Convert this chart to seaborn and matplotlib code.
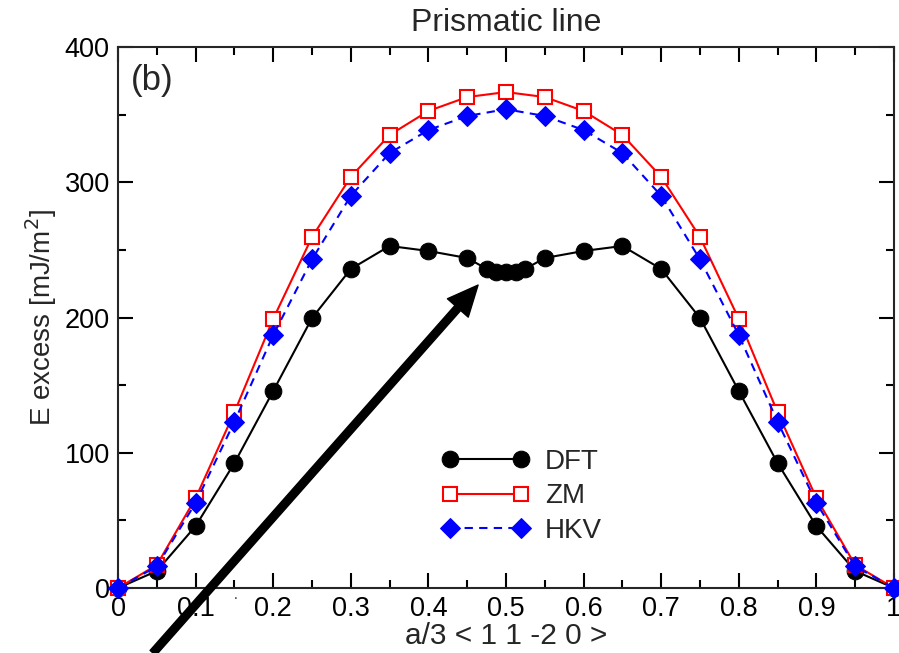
import matplotlib
matplotlib.use("Agg")
import matplotlib.pyplot as plt
import seaborn as sns
from matplotlib.ticker import MultipleLocator

# data
x_dft = [0.0, 0.05, 0.1, 0.15, 0.2, 0.25, 0.3, 0.35, 0.4, 0.45,
         0.475, 0.4875, 0.5, 0.5125, 0.525,
         0.55, 0.6, 0.65, 0.7, 0.75, 0.8, 0.85, 0.9, 0.95, 1.0]
e_dft = [0.0, 12.6, 45.8, 92.4, 145.7, 199.6, 235.9, 252.9, 249.2, 244.0,
         236.0, 234.0, 233.5, 234.0, 236.0,
         244.0, 249.2, 252.9, 235.9, 199.6, 145.7, 92.4, 45.8, 12.6, 0.0]

x_model = [0.0, 0.05, 0.1, 0.15, 0.2, 0.25, 0.3, 0.35, 0.4, 0.45, 0.5,
           0.55, 0.6, 0.65, 0.7, 0.75, 0.8, 0.85, 0.9, 0.95, 1.0]
e_zm = [0.0, 17.0, 66.5, 130.0, 199.0, 259.5, 304.0, 335.0, 352.7, 363.0, 366.7,
        363.0, 352.7, 335.0, 304.0, 259.5, 199.0, 130.0, 66.5, 17.0, 0.0]
e_hkv = [0.0, 16.0, 63.0, 123.0, 187.0, 243.0, 290.0, 321.6, 338.6, 349.0, 354.0,
         349.0, 338.6, 321.6, 290.0, 243.0, 187.0, 123.0, 63.0, 16.0, 0.0]

# arrow: tail (off the bottom) and tip, in data units
arrow_tail = (0.045, -48)
arrow_tip = (0.464, 224)

sns.set_style("ticks")
plt.rcParams["font.family"] = ["Liberation Sans", "DejaVu Sans"]

fig = plt.figure(figsize=(8.99, 6.53), dpi=100)
ax = fig.add_axes([0.1313, 0.0995, 0.8631, 0.8285])

sns.lineplot(x=x_dft, y=e_dft, ax=ax, color="black", lw=1.5, marker="o",
             markersize=12, markeredgecolor="black", label="DFT",
             sort=False, estimator=None, clip_on=False, zorder=3)
sns.lineplot(x=x_model, y=e_zm, ax=ax, color="red", lw=1.5, marker="s",
             markersize=10, markerfacecolor="white", markeredgecolor="red",
             markeredgewidth=1.5, label="ZM",
             sort=False, estimator=None, clip_on=False, zorder=4)
sns.lineplot(x=x_model, y=e_hkv, ax=ax, color="blue", lw=1.5, marker="D",
             markersize=10.5, markeredgecolor="blue", label="HKV",
             sort=False, estimator=None, clip_on=False, zorder=5)
ax.lines[-1].set_linestyle((0, (4, 3)))

ax.set_xlim(0, 1)
ax.set_ylim(0, 400)
ax.xaxis.set_minor_locator(MultipleLocator(0.05))
ax.yaxis.set_major_locator(MultipleLocator(100))
ax.yaxis.set_minor_locator(MultipleLocator(50))
ax.set_xticks([0, 0.1, 0.2, 0.3, 0.4, 0.5, 0.6, 0.7, 0.8, 0.9, 1.0])
ax.set_xticklabels(["0", "0.1", "0.2", "0.3", "0.4", "0.5", "0.6", "0.7",
                    "0.8", "0.9", "1"])
ax.tick_params(which="both", direction="in", top=True, right=True,
               labelsize=19.5, width=1.5, colors="black")
ax.tick_params(which="major", length=10.5, pad=6)
ax.tick_params(which="minor", length=6)
for sp in ax.spines.values():
    sp.set_linewidth(1.5)
    sp.set_visible(True)

ax.set_xlabel("a/3 < 1 1 -2 0 >", fontsize=21.5, labelpad=0)
ax.set_ylabel("E excess [mJ/m$^2$]", fontsize=20, labelpad=4)
ax.set_title("Prismatic line", fontsize=23, pad=11.5)
ax.text(0.0168, 0.939, "(b)", transform=ax.transAxes, fontsize=25,
        ha="left", va="center")
ax.text(0.151, -5, ".", fontsize=10, ha="center", va="center",
        clip_on=False)

ax.annotate("", xy=arrow_tip, xytext=arrow_tail, annotation_clip=False,
            arrowprops=dict(facecolor="black", edgecolor="black", width=5.5,
                            headwidth=20, headlength=22, shrink=0),
            zorder=10)

handles, labels = ax.get_legend_handles_labels()
ax.legend(handles, labels, loc="upper left", bbox_to_anchor=(0.417, 0.257),
          frameon=False, fontsize=20, numpoints=2, handlelength=3.15,
          handletextpad=0.56, labelspacing=0.3, borderpad=0, borderaxespad=0)

fig.savefig("out.png", dpi=100)
